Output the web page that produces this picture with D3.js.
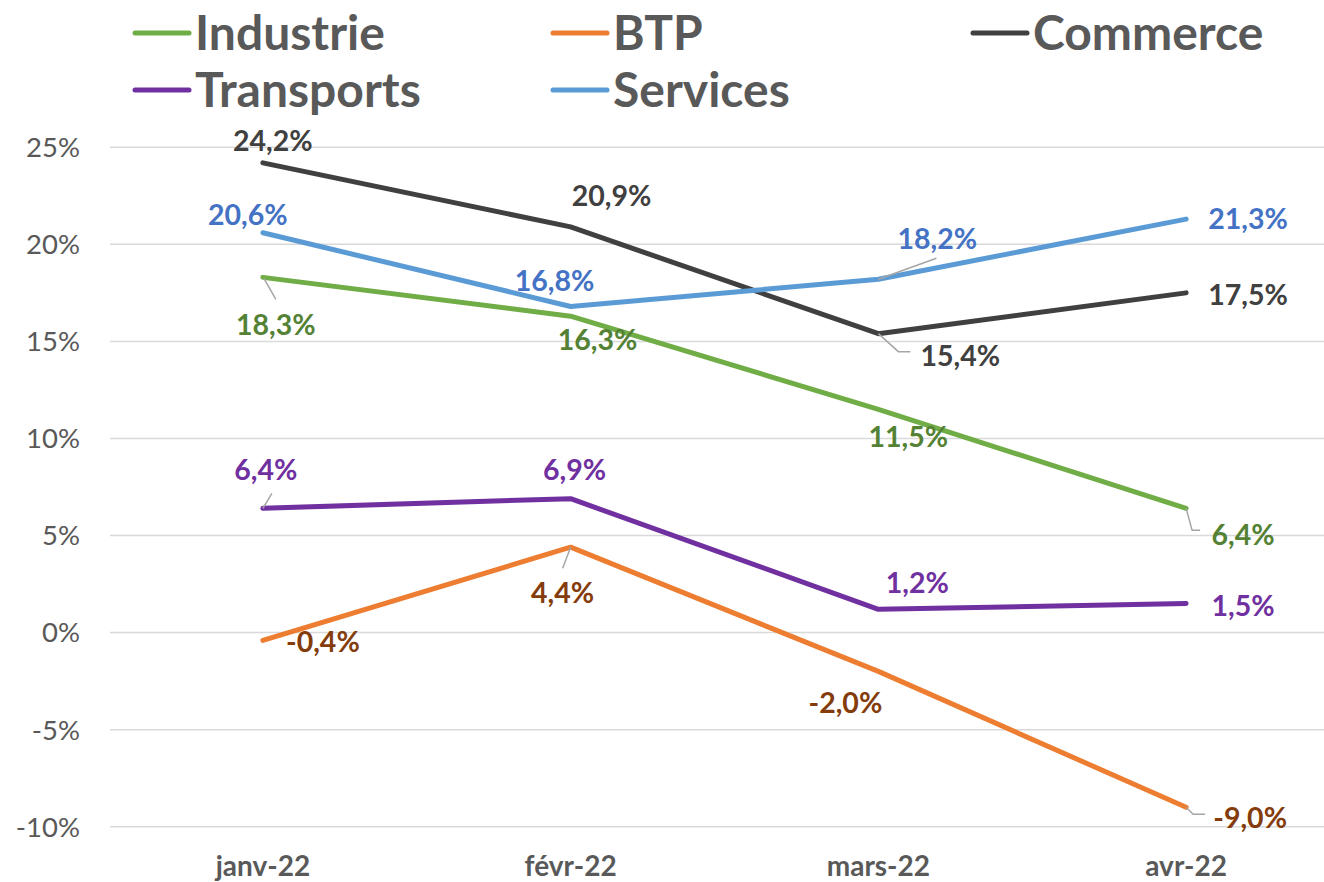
<!DOCTYPE html>
<html>
<head>
<meta charset="utf-8">
<script src="https://cdnjs.cloudflare.com/ajax/libs/d3/7.8.5/d3.min.js"></script>
<style>
  body { margin: 0; background: #fff; }
  svg { display: block; font-family: "Lato", "Open Sans", sans-serif; }
</style>
</head>
<body>
<div id="chart"></div>
<script>
const months = ["janv-22", "févr-22", "mars-22", "avr-22"];
const seriesNames = ["Industrie", "BTP", "Commerce", "Transports", "Services"];
const industrie = [18.3, 16.3, 11.5, 6.4];
const btp = [-0.4, 4.4, -2.0, -9.0];
const commerce = [24.2, 20.9, 15.4, 17.5];
const transports = [6.4, 6.9, 1.2, 1.5];
const services = [20.6, 16.8, 18.2, 21.3];
const yTicks = [-10, -5, 0, 5, 10, 15, 20, 25];

// colours: line, label
const lineColors = ["#70AD47", "#ED7D31", "#404040", "#7030A0", "#5B9BD5"];
const labelColors = ["#548235", "#843C0C", "#404040", "#7030A0", "#4472C4"];

// label placement relative to the point [dx, dy], optional leader polyline offsets
const labelPos = [
    [[13, 47, [[1, 1], [13, 22]]], [27, 24], [30, 27], [57, 26, [[0, 0], [6, 22], [14, 22]]]],
    [[60, 1], [-8, 46, [[0, 0], [-8, 21]]], [-33, 31], [64, 10, [[0, 0], [7, 7], [19, 7]]]],
    [[10, -22], [41, -31], [82, 22, [[0, 0], [20, 18], [32, 18]]], [62, 2]],
    [[3, -39, [[0, 0], [9, -15]]], [4, -29], [39, -27], [57, 2]],
    [[-15, -18], [-16, -26], [59, -41, [[0, 0], [58, -21]]], [62, 0]]
];

const width = 1324, height = 882;
const data = [industrie, btp, commerce, transports, services];

const svg = d3.select("#chart").append("svg")
    .attr("width", width)
    .attr("height", height);

const x = d3.scalePoint()
    .domain(months)
    .range([109, 1340])
    .padding(0.5);

const y = d3.scaleLinear()
    .domain([-10, 25])
    .range([826.7, 147.3]);

// gridlines
svg.append("g")
    .selectAll("line")
    .data(yTicks)
    .join("line")
    .attr("x1", 110)
    .attr("x2", 1340)
    .attr("y1", d => y(d))
    .attr("y2", d => y(d))
    .attr("stroke", "#d9d9d9")
    .attr("stroke-width", 1.5);

// y axis labels
svg.append("g")
    .selectAll("text")
    .data(yTicks)
    .join("text")
    .attr("x", 80)
    .attr("y", d => y(d))
    .attr("dy", "0.36em")
    .attr("text-anchor", "end")
    .attr("font-size", 27.5)
    .attr("fill", "#595959")
    .text(d => d + "%");

// x axis labels
svg.append("g")
    .selectAll("text")
    .data(months)
    .join("text")
    .attr("x", d => x(d))
    .attr("y", 876)
    .attr("text-anchor", "middle")
    .attr("font-size", 28)
    .attr("font-weight", "bold")
    .attr("fill", "#595959")
    .text(d => d);

const line = d3.line()
    .x((d, i) => x(months[i]))
    .y(d => y(d));

// lines
svg.append("g")
    .selectAll("path")
    .data(data)
    .join("path")
    .attr("d", d => line(d))
    .attr("fill", "none")
    .attr("stroke", (d, i) => lineColors[i])
    .attr("stroke-width", 5)
    .attr("stroke-linejoin", "round")
    .attr("stroke-linecap", "round");

const fmt = v => v.toFixed(1).replace(".", ",") + "%";

// leader lines and data labels
const labels = svg.append("g");
data.forEach((vals, s) => {
    vals.forEach((v, i) => {
        const px = x(months[i]), py = y(v);
        const pos = labelPos[s][i];
        if (pos[2]) {
            labels.append("polyline")
                .attr("points", pos[2].map(p => [px + p[0], py + p[1]].join(",")).join(" "))
                .attr("fill", "none")
                .attr("stroke", "#a6a6a6")
                .attr("stroke-width", 1.5);
        }
        labels.append("text")
            .attr("x", px + pos[0])
            .attr("y", py + pos[1])
            .attr("dy", "0.36em")
            .attr("text-anchor", "middle")
            .attr("font-size", 28.5)
            .attr("font-weight", "bold")
            .attr("fill", labelColors[s])
            .text(fmt(v));
    });
});

// legend
const legendPos = [[135, 33], [553, 33], [973, 33], [135, 90], [553, 90]];
const legend = svg.append("g")
    .selectAll("g")
    .data(seriesNames)
    .join("g")
    .attr("transform", (d, i) => `translate(${legendPos[i][0]},${legendPos[i][1]})`);

legend.append("line")
    .attr("x1", 0)
    .attr("x2", 54)
    .attr("stroke", (d, i) => lineColors[i])
    .attr("stroke-width", 5)
    .attr("stroke-linecap", "round");

legend.append("text")
    .attr("x", 60)
    .attr("dy", "0.36em")
    .attr("font-size", 48)
    .attr("font-weight", "bold")
    .attr("fill", "#595959")
    .text(d => d);
</script>
</body>
</html>
